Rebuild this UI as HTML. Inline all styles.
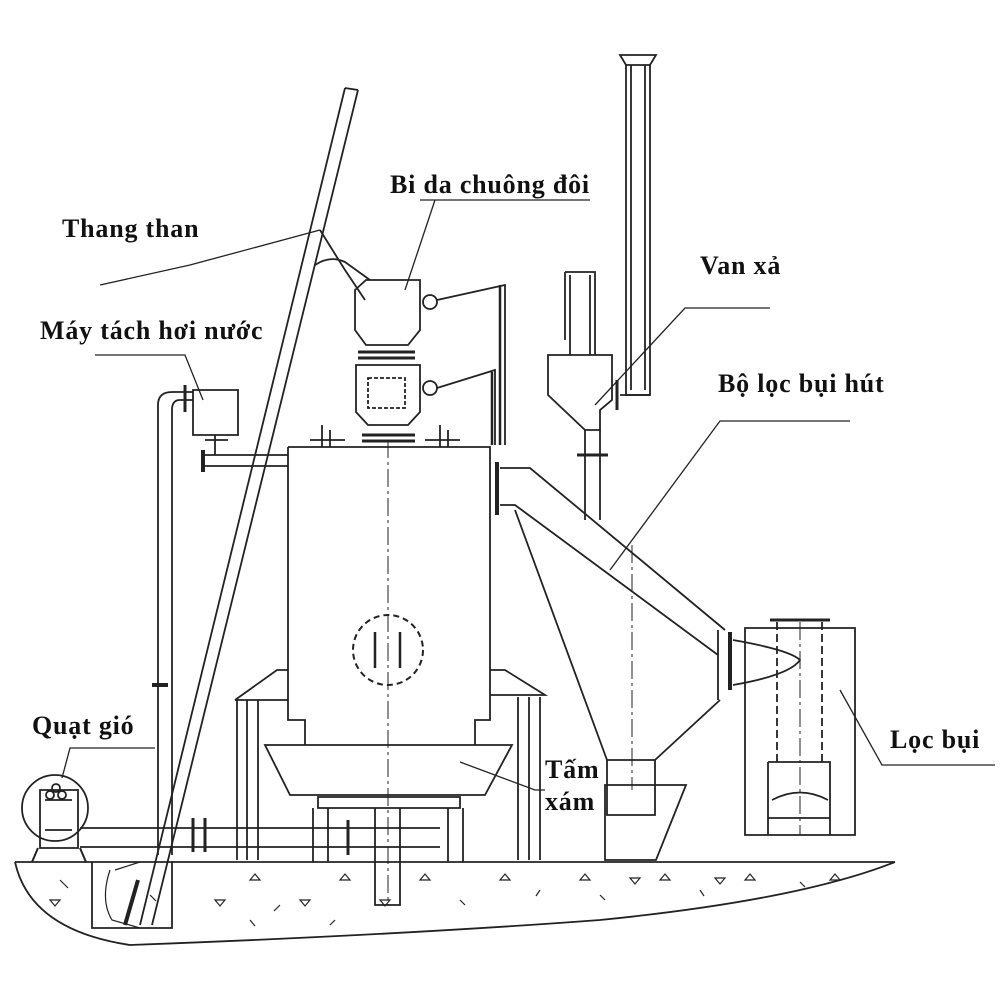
<!DOCTYPE html>
<html><head><meta charset="utf-8"><style>
html,body{margin:0;padding:0;background:#fff}
svg{display:block}
text{font-family:"Liberation Serif",serif;font-weight:bold;font-size:26px;letter-spacing:0.8px;fill:#111}
</style></head><body>
<svg width="1000" height="1000" viewBox="0 0 1000 1000" xmlns="http://www.w3.org/2000/svg">
<g fill="none" stroke="#222" stroke-width="1.8">
<!-- ground -->
<path d="M15 862 L895 862"/>
<path d="M15 862 Q30 930 130 945 Q400 935 600 920 Q800 900 895 862"/>
<path d="M92 862 V928 H172 V862"/>
<path d="M110 870 Q100 900 112 920 L140 928 M115 870 L140 862" stroke-width="1.2"/>
<path d="M125 925 L138 880" stroke-width="4"/>
<g stroke-width="1.2">
<path d="M250 880 l5 -6 l5 6z M340 880 l5 -6 l5 6z M420 880 l5 -6 l5 6z M500 880 l5 -6 l5 6z M580 880 l5 -6 l5 6z M660 880 l5 -6 l5 6z M745 880 l5 -6 l5 6z M830 880 l5 -6 l5 6z"/>
<path d="M50 900 l5 6 l5 -6z M215 900 l5 6 l5 -6z M300 900 l5 6 l5 -6z M380 900 l5 6 l5 -6z M630 878 l5 6 l5 -6z M715 878 l5 6 l5 -6z"/>
<path d="M60 880 l8 8 M150 895 l6 6 M280 905 l-6 6 M460 900 l5 5 M540 890 l-4 6 M600 895 l5 5 M700 890 l4 6 M800 882 l5 5 M250 920 l5 6 M330 925 l5 -5"/>
</g>
<!-- ladder -->
<path d="M345 88 L140 925 M358 90 L152 925 M345 88 L358 90"/>
<!-- main body -->
<path d="M288 447 H490 V720 H475 V745 M288 447 V720 H305 V745"/>
<path d="M388 440 V905" stroke-dasharray="18 4 3 4" stroke-width="1"/>
<circle cx="388" cy="650" r="35" stroke-dasharray="6 4" stroke-width="2"/>
<path d="M375 632 V668 M400 632 V668" stroke-width="2.5"/>
<!-- trough -->
<path d="M265 745 H512 L485 795 H290 Z"/>
<path d="M318 797 H460 V808 H318 Z"/>
<path d="M313 808 V862 M328 808 V862 M448 808 V862 M463 808 V862 M375 808 V905 H400 V808"/>
<!-- supports -->
<path d="M235 700 L277 670 H288 M235 700 H288 M237 700 V860 M258 700 V860 M247 700 V860" />
<path d="M490 670 H505 L545 695 H490 M518 697 V860 M540 697 V860 M529 697 V860"/>
<!-- air pipe -->
<path d="M80 828 H440 M80 847 H440" />
<path d="M193 818 V852 M205 818 V852" stroke-width="3"/>
<path d="M348 820 V855" stroke-width="3"/>
<!-- fan -->
<circle cx="55" cy="808" r="33"/>
<path d="M40 790 H78 V848 H40 Z M45 800 H72 M45 830 H72"/>
<path d="M38 848 L32 862 M80 848 L86 862" stroke-width="2"/>
<circle cx="50" cy="795" r="4"/><circle cx="62" cy="795" r="4"/><circle cx="56" cy="788" r="4"/>
<!-- steam separator -->
<path d="M193 390 H238 V435 H193 Z"/>
<path d="M158 855 V405 Q158 392 172 392 H193 M172 855 V410 Q172 400 180 400 H193"/>
<path d="M185 385 V412" stroke-width="3"/>
<path d="M152 685 H168" stroke-width="4"/>
<path d="M205 440 H228 M215 435 V455 M205 455 H288 M205 466 H288"/>
<path d="M203 450 V472" stroke-width="4"/>
<!-- bell hopper -->
<path d="M366 280 H420 V330 L408 345 H366 L355 330 V290 Z"/>
<path d="M358 352 H415 M358 358 H415" stroke-width="3"/>
<path d="M356 365 H420 V412 L408 425 H368 L356 412 Z"/>
<path d="M368 378 H405 V408 H368 Z" stroke-dasharray="4 2"/>
<path d="M362 435 H415 M362 441 H415" stroke-width="3"/>
<path d="M322 425 V447 M330 430 V447 M440 425 V447 M448 430 V447"/>
<path d="M310 440 H345 M425 440 H460"/>
<circle cx="430" cy="302" r="7"/><circle cx="430" cy="388" r="7"/>
<path d="M437 300 L505 285 V445 M437 388 L495 370 V445"/>
<path d="M500 285 V445 M492 372 V445" stroke-width="2.5"/>
<path d="M320 230 L345 270 L365 300 M315 265 Q330 255 345 262 L370 280"/>
<!-- van xa / chimney -->
<path d="M620 55 H656 L650 65 H626 Z"/>
<path d="M626 65 V395 H650 V65 M631 65 V390 M645 65 V390"/>
<path d="M565 272 H595 V355 M565 272 V340 M570 275 V355 M590 275 V355"/>
<path d="M548 355 H612 V400 L600 410 V430 H585 L548 395 Z"/>
<path d="M585 430 V520 M600 430 V520"/>
<path d="M577 455 H608" stroke-width="3"/>
<path d="M617 380 V410" stroke-width="3"/>
<path d="M620 395 H650"/>
<!-- duct -->
<path d="M497 462 V515" stroke-width="4"/>
<path d="M500 468 H530 L725 630 M500 505 H515 L718 655"/>
<path d="M515 510 L607 760 M720 700 L655 760"/>
<path d="M718 630 V700"/>
<path d="M632 545 V790" stroke-dasharray="18 4 3 4" stroke-width="1"/>
<path d="M607 760 H655 V815 H607 Z"/>
<path d="M605 785 H686 L656 860 H605 Z"/>
<!-- nozzle -->
<path d="M730 632 V690" stroke-width="4"/>
<path d="M733 640 Q790 650 800 660 Q790 675 733 685"/>
<!-- loc bui -->
<path d="M745 628 H855 V835 H745 Z"/>
<path d="M770 620 H830" stroke-width="3"/>
<path d="M777 622 V762 M822 622 V762" stroke-dasharray="8 4"/>
<path d="M800 622 V835" stroke-dasharray="18 4 3 4" stroke-width="1"/>
<path d="M768 762 H830 V835 M768 762 V835 M768 818 H830 M772 800 Q800 785 828 800"/>
<!-- leader lines -->
<g stroke-width="1.3">
<path d="M100 285 L190 265 L320 230"/>
<path d="M420 200 H590 M435 200 L405 290"/>
<path d="M95 355 H185 L203 400"/>
<path d="M770 308 H685 L595 405"/>
<path d="M850 421 H720 L610 570"/>
<path d="M995 765 H882 L840 690"/>
<path d="M155 748 H70 L62 778"/>
<path d="M545 790 H535 L460 762"/>
</g>
</g>
<text x="62" y="237">Thang than</text>
<text x="390" y="193">Bi da chuông đôi</text>
<text x="40" y="339">Máy tách hơi nước</text>
<text x="700" y="274">Van xả</text>
<text x="718" y="392">Bộ lọc bụi hút</text>
<text x="890" y="748">Lọc bụi</text>
<text x="32" y="734">Quạt gió</text>
<text x="545" y="778">Tấm</text>
<text x="545" y="810">xám</text>
</svg>
</body></html>
